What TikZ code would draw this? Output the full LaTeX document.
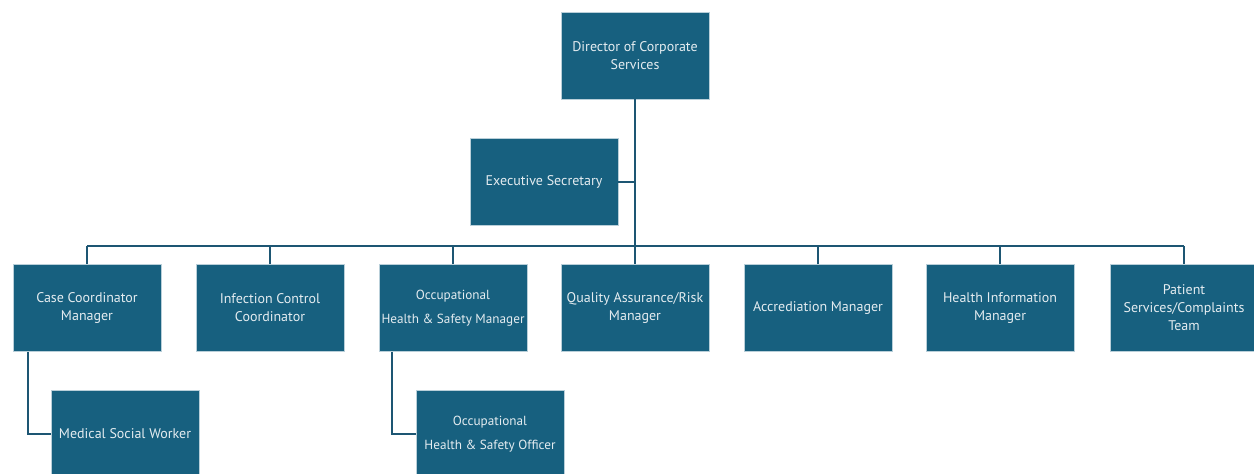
\documentclass[tikz,border=0pt]{standalone}
\usepackage{fontspec}
\setmainfont{PT Sans}
\definecolor{boxfill}{HTML}{17607F}
\definecolor{linecol}{HTML}{1D5673}
\definecolor{txtcol}{HTML}{E4ECF0}
\begin{document}
\begin{tikzpicture}[x=1pt,y=-1pt,
  orgbox/.style={draw=white!70!boxfill,line width=0.6pt,fill=boxfill,text=txtcol,
    minimum width=148pt,minimum height=87pt,inner sep=1pt,align=center,
    font=\fontsize{14}{18}\selectfont},
  twoline/.style={font=\fontsize{13.2}{24}\selectfont},
  conn/.style={draw=linecol,line width=2.5pt}]
\useasboundingbox (0,0) rectangle (1254,474);
\node[orgbox] (dir) at (635,55.5) {Director of Corporate\\Services};
\node[orgbox] (exec) at (544,182) {Executive Secretary};
\node[orgbox] (case) at (87,308) {Case Coordinator\\Manager};
\node[orgbox] (inf) at (270,308) {Infection Control\\Coordinator};
\node[orgbox,twoline] (ohs) at (453,308) {Occupational\\Health \& Safety Manager};
\node[orgbox] (qa) at (635,308) {Quality Assurance/Risk\\Manager};
\node[orgbox] (acc) at (818,308) {Accrediation Manager};
\node[orgbox] (him) at (1000,308) {Health Information\\Manager};
\node[orgbox] (pat) at (1184,308) {Patient\\Services/Complaints\\Team};
\node[orgbox] (msw) at (125,434) {Medical Social Worker};
\node[orgbox,twoline] (oso) at (490,434) {Occupational\\Health \& Safety Officer};
\coordinate (bar) at (635,246);
\draw[conn] (dir.south) -- (qa.north);
\draw[conn] (exec.east) -- (exec.east -| dir.south);
\draw[conn] (case.north |- bar) -- (pat.north |- bar);
\foreach \n in {case,inf,ohs,acc,him,pat}
  \draw[conn] (\n.north) -- (\n.north |- bar);
\draw[conn] ([xshift=-59pt]case.south) |- (msw.west);
\draw[conn] ([xshift=-61pt]ohs.south) |- (oso.west);
\end{tikzpicture}
\end{document}
